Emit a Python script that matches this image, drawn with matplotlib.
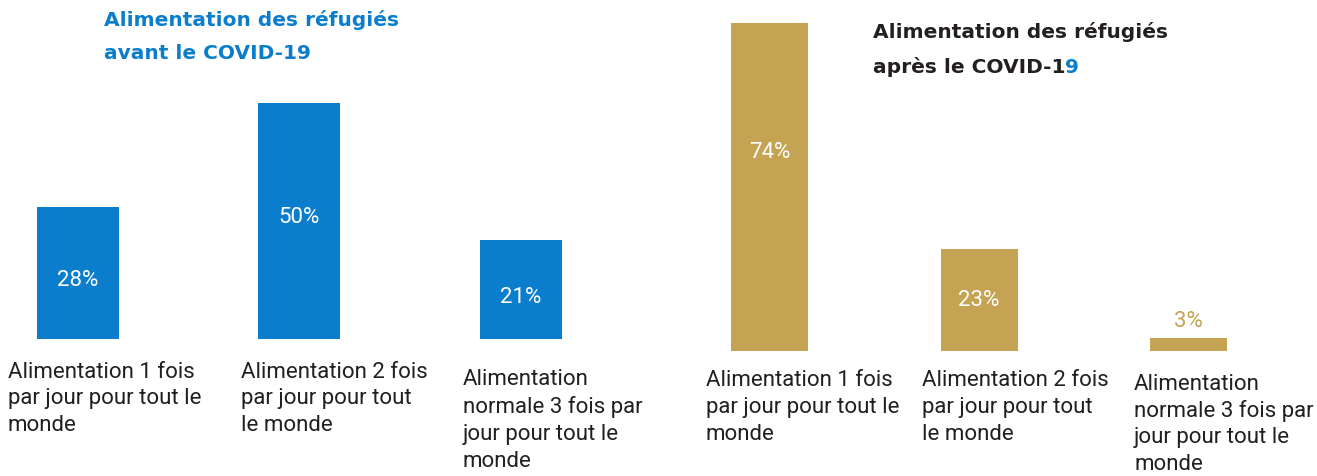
import matplotlib
matplotlib.use("Agg")
import matplotlib.pyplot as plt
import numpy as np

categories = [
    "Alimentation 1 fois\npar jour pour tout le\nmonde",
    "Alimentation 2 fois\npar jour pour tout\nle monde",
    "Alimentation\nnormale 3 fois par\njour pour tout le\nmonde",
]
avant = [28, 50, 21]
apres = [74, 23, 3]

BLUE = "#0b7dcd"
GOLD = "#c4a352"
DARK = "#231f20"
LABEL_FONT = "Roboto"

W, H = 1317, 477
fig = plt.figure(figsize=(W / 100, H / 100), dpi=100)

ax1 = fig.add_axes([0 / W, (H - 340) / H, 660 / W, 283.2 / H])
ax2 = fig.add_axes([680 / W, (H - 352) / H, 637 / W, 336.7 / H])

x = np.arange(len(categories))

# left panel - before
ax1.bar(x, avant, width=0.37, color=BLUE)
ax1.set_xlim(-0.352, 2.628)
ax1.set_ylim(0, 60)
for i, v in enumerate(avant):
    frac = [0.45, 0.52, 0.43][i]
    ax1.text(i, v * frac, f"{v}%", color="white", ha="center", va="center",
             fontsize=16, family=LABEL_FONT)
for i, lab in enumerate(categories):
    ax1.annotate(lab, xy=(i + [-0.316, -0.264, -0.262][i], 0), xycoords="data",
                 xytext=(0, [-15.5, -15.5, -21][i]), textcoords="offset points",
                 ha="left", va="top", fontsize=16, color=DARK,
                 family=LABEL_FONT, linespacing=1.36)

# right panel - after
ax2.bar(x, apres, width=0.3675, color=GOLD)
ax2.set_xlim(-0.427, 2.613)
ax2.set_ylim(0, 76)
for i, v in enumerate(apres):
    if v < 8:
        ax2.annotate(f"{v}%", xy=(i, v), xytext=(0, 5), textcoords="offset points",
                     color=GOLD, ha="center", va="bottom", fontsize=16, family=LABEL_FONT)
    else:
        frac = [0.61, 0.51, 0.5][i]
        ax2.text(i, v * frac, f"{v}%", color="white", ha="center", va="center",
                 fontsize=16, family=LABEL_FONT)
for i, lab in enumerate(categories):
    ax2.annotate(lab, xy=(i + [-0.303, -0.274, -0.26][i], 0), xycoords="data",
                 xytext=(0, [-13, -13, -15.5][i]), textcoords="offset points",
                 ha="left", va="top", fontsize=16, color=DARK,
                 family=LABEL_FONT, linespacing=[1.36, 1.36, 1.33][i])

for ax in (ax1, ax2):
    ax.axis("off")

# titles
fig.text(104 / W, 1 - 10 / H, "Alimentation des réfugiés\navant le COVID-19",
         color=BLUE, fontsize=14.5, fontweight="bold", ha="left", va="top",
         linespacing=1.95)
fig.text(873 / W, 1 - 22 / H, "Alimentation des réfugiés",
         color=DARK, fontsize=14.5, fontweight="bold", ha="left", va="top")
t2 = fig.text(873 / W, 1 - 57 / H, "après le COVID-1",
              color=DARK, fontsize=14.5, fontweight="bold", ha="left", va="top")
fig.add_artist(matplotlib.text.Annotation(
    "9", xy=(1, 0), xycoords=t2, ha="left", va="bottom",
    color=BLUE, fontsize=14.5, fontweight="bold", annotation_clip=False))

fig.savefig("out.png", dpi=100)
